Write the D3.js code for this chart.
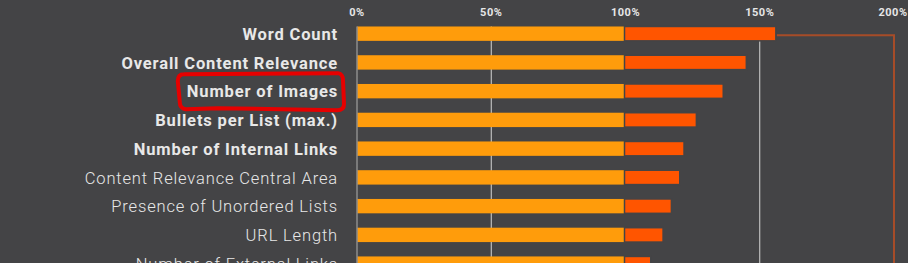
<!DOCTYPE html>
<html>
<head>
<meta charset="utf-8">
<script src="https://cdn.jsdelivr.net/npm/d3@7"></script>
<style>
  html, body { margin: 0; padding: 0; background: #444446; overflow: hidden; }
  svg { display: block; font-family: Roboto, "Open Sans", sans-serif; }
</style>
</head>
<body>
<svg width="908" height="263"></svg>
<script>
// factors and their score relative to the benchmark (100%)
var factors = [
  "Word Count",
  "Overall Content Relevance",
  "Number of Images",
  "Bullets per List (max.)",
  "Number of Internal Links",
  "Content Relevance Central Area",
  "Presence of Unordered Lists",
  "URL Length",
  "Number of External Links"
];
var scores = [156, 145, 136.4, 126.4, 121.8, 120.2, 117.1, 114, 109.4];
var boldFactors = ["Word Count", "Overall Content Relevance", "Number of Images",
  "Bullets per List (max.)", "Number of Internal Links"];
var highlighted = "Number of Images";
var tickValues = [0, 50, 100, 150, 200];
var tickLabels = ["0%", "50%", "100%", "150%", "200%"];

var svg = d3.select("svg");
var bg = "#444446";

var x = d3.scaleLinear().domain([0, 200]).range([357, 894]);
var y = d3.scaleBand().domain(factors).range([19.3, 278]).paddingInner(0.5).paddingOuter(0.25);

// gridlines (behind bars)
svg.append("g")
  .selectAll("line")
  .data(tickValues.filter(d => d == 50 || d == 150))
  .enter()
  .append("line")
  .attr("x1", d => x(d))
  .attr("x2", d => x(d))
  .attr("y1", y(factors[0]))
  .attr("y2", 263)
  .attr("stroke", "#d4d4d4")
  .attr("stroke-width", 1);

// tick labels on top
svg.append("g")
  .selectAll("text")
  .data(tickValues)
  .enter()
  .append("text")
  .attr("x", (d, i) => x(d) + (i == 4 ? -1 : 0))
  .attr("y", 16)
  .attr("text-anchor", "middle")
  .attr("font-size", "11px")
  .attr("font-weight", 700)
  .attr("letter-spacing", "0.5px")
  .attr("fill", "#e6e6e6")
  .text((d, i) => tickLabels[i]);

// base part (up to 100%)
svg.append("g")
  .selectAll("rect")
  .data(factors)
  .enter()
  .append("rect")
  .attr("x", x(0))
  .attr("y", d => y(d))
  .attr("width", (d, i) => x(Math.min(scores[i], 100)) - x(0))
  .attr("height", y.bandwidth())
  .attr("fill", "#ff9c0b");

// excess part (above 100%)
svg.append("g")
  .selectAll("rect")
  .data(factors)
  .enter()
  .append("rect")
  .attr("x", x(100) - 1)
  .attr("y", d => y(d))
  .attr("width", (d, i) => Math.max(0, x(scores[i]) - x(100) + 1))
  .attr("height", y.bandwidth())
  .attr("fill", "#ff5500")
  .attr("stroke", bg)
  .attr("stroke-width", 1.5);

// left axis line
svg.append("line")
  .attr("x1", x(0))
  .attr("x2", x(0))
  .attr("y1", y(factors[0]))
  .attr("y2", 263)
  .attr("stroke", "#8c8c8c")
  .attr("stroke-width", 1.5);

// category labels
var labels = svg.append("g")
  .selectAll("text")
  .data(factors)
  .enter()
  .append("text")
  .attr("x", 338)
  .attr("y", d => y(d) + y.bandwidth() / 2)
  .attr("dy", "0.38em")
  .attr("text-anchor", "end")
  .attr("font-size", "16.5px")
  .attr("letter-spacing", "0.85px")
  .attr("font-weight", d => boldFactors.includes(d) ? 700 : 300)
  .attr("fill", "#e8e8e8")
  .text(d => d);

// connector bracket from the top bar
var yTop = y(factors[0]) + y.bandwidth() / 2 + 1.5;
svg.append("path")
  .attr("d", "M" + (x(scores[0]) + 1) + "," + yTop + "H" + x(200) + "V" + 263)
  .attr("fill", "none")
  .attr("stroke", "#a64c28")
  .attr("stroke-width", 2);

// red hand-drawn highlight around one label
labels.filter(d => d == highlighted).each(function (d) {
  var b = this.getBBox();
  var cy = y(d) + y.bandwidth() / 2;
  var x0 = b.x - 9, x1 = b.x + b.width + 5;
  var y0 = cy - 18, y1 = cy + 19;
  var p = d3.path();
  p.moveTo(x0 + 6, y0 + 1);
  p.lineTo(x1 - 5, y0);
  p.quadraticCurveTo(x1, y0 + 1, x1, y0 + 7);
  p.lineTo(x1 + 1, y1 - 6);
  p.quadraticCurveTo(x1 + 1, y1, x1 - 6, y1);
  p.lineTo(x0 + 40, y1 - 2);
  p.lineTo(x0 + 8, y1 - 1);
  p.quadraticCurveTo(x0 + 2, y1 - 2, x0 + 2, y1 - 8);
  p.lineTo(x0, y0 + 8);
  p.quadraticCurveTo(x0, y0 + 1, x0 + 6, y0 + 1);
  svg.append("path")
    .attr("d", p.toString())
    .attr("fill", "none")
    .attr("stroke", "#e60000")
    .attr("stroke-width", 4)
    .attr("stroke-linejoin", "round");
});
</script>
</body>
</html>
